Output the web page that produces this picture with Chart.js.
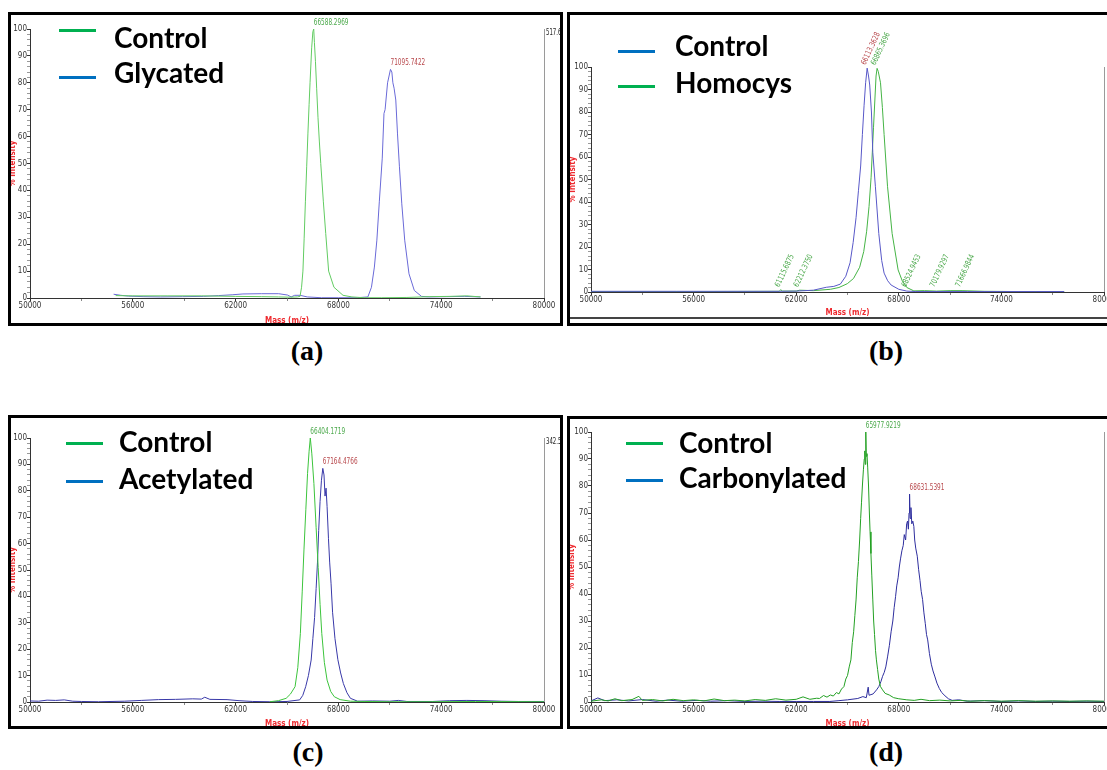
<!DOCTYPE html>
<html>
<head>
<meta charset="utf-8">
<script src="https://cdn.jsdelivr.net/npm/chart.js@4.4.1/dist/chart.umd.min.js"></script>
<style>
  body { margin: 0; width: 1107px; height: 770px; overflow: hidden; background: #fff; position: relative; }
  canvas { position: absolute; z-index: 1; }
  .box { position: absolute; border: 3px solid #000; box-sizing: border-box; z-index: 3; pointer-events: none; }
  .sw { position: absolute; height: 3px; width: 37px; z-index: 2; }
  .leg { position: absolute; z-index: 2; font-family: Lato, 'Open Sans', sans-serif; font-weight: 700;
         font-size: 28px; line-height: 28px; color: #000; white-space: nowrap; }
  .cap { position: absolute; width: 100px; text-align: center; font-family: 'Liberation Serif', serif;
         font-weight: bold; font-size: 28px; line-height: 28px; color: #000; }
  .rule { position: absolute; height: 2px; background: #444; z-index: 2; }
</style>
</head>
<body>

<canvas id="panelA" width="555" height="314" style="left:8px;top:12px"></canvas>
<canvas id="panelB" width="560" height="314" style="left:567px;top:12px"></canvas>
<canvas id="panelC" width="555" height="314" style="left:8px;top:415px"></canvas>
<canvas id="panelD" width="560" height="313" style="left:567px;top:416px"></canvas>

<div class="box" style="left:8px;top:12px;width:555px;height:314px"></div>
<div class="box" style="left:567px;top:12px;width:560px;height:314px"></div>
<div class="box" style="left:8px;top:415px;width:555px;height:314px"></div>
<div class="box" style="left:567px;top:416px;width:560px;height:313px"></div>
<div class="rule" style="left:567px;top:317px;width:540px"></div>

<!-- legends -->
<div class="sw" style="left:59px;top:29px;background:#00b050"></div>
<div class="leg" style="left:114px;top:23px">Control</div>
<div class="sw" style="left:59px;top:76px;background:#0070c0"></div>
<div class="leg" style="left:114px;top:58px">Glycated</div>

<div class="sw" style="left:618px;top:50px;background:#0070c0"></div>
<div class="leg" style="left:675px;top:31px">Control</div>
<div class="sw" style="left:618px;top:85px;background:#00b050"></div>
<div class="leg" style="left:675px;top:68px">Homocys</div>

<div class="sw" style="left:66px;top:442px;background:#00b050"></div>
<div class="leg" style="left:119px;top:427px">Control</div>
<div class="sw" style="left:66px;top:480px;background:#0070c0"></div>
<div class="leg" style="left:119px;top:464px">Acetylated</div>

<div class="sw" style="left:626px;top:442px;background:#00b050"></div>
<div class="leg" style="left:679px;top:428px">Control</div>
<div class="sw" style="left:626px;top:479px;background:#0070c0"></div>
<div class="leg" style="left:679px;top:463px">Carbonylated</div>

<div class="cap" style="left:257px;top:337px">(a)</div>
<div class="cap" style="left:836px;top:337px">(b)</div>
<div class="cap" style="left:258px;top:738px">(c)</div>
<div class="cap" style="left:836px;top:738px">(d)</div>

<script>
// axis tick labels
const massTicks = [50000, 56000, 62000, 68000, 74000, 80000];
const intensityTicks = [0, 10, 20, 30, 40, 50, 60, 70, 80, 90, 100];

// (a) control vs glycated
const massA_ctrl = [55000, 56000, 58000, 60000, 62000, 63500, 64500, 65200, 65600, 65760,
  65850, 65930, 66000, 66075, 66150, 66220, 66290, 66345, 66440, 66510,
  66560, 66600, 66660, 66730, 66810, 66890, 66970, 67120, 67260, 67430,
  67740, 68270, 68790, 69500, 70500, 72000, 73300, 74500, 75500, 76300];
const intA_ctrl = [0.9, 0.8, 0.8, 0.8, 0.6, 0.5, 0.4, 0.3, 0.4, 0.6,
  4, 10, 22, 36, 49, 61, 72, 80, 93, 99,
  100, 95, 88, 78, 67, 58, 50, 36, 24, 10,
  4, 1, 0.4, 0.1, 0.1, 0.2, 0.5, 0.6, 0.8, 0.4];
const massA_gly = [54880, 55300, 55750, 56600, 57630, 58900, 60130, 61000, 61800, 62430,
  63500, 64510, 65030, 65240, 65450, 65760, 66180, 67010, 68000, 69100,
  69720, 69930, 70100, 70245, 70390, 70560, 70660, 70725, 70870, 71040,
  71120, 71180, 71250, 71350, 71450, 71560, 71700, 71870, 72120, 72430,
  72850, 73270, 74300, 75350, 76290];
const intA_gly = [1.4, 1.0, 0.7, 0.5, 0.4, 0.5, 0.6, 0.9, 1.2, 1.5,
  1.6, 1.6, 1.1, 0.4, 1.0, 1.0, 0.4, 0.1, 0.1, 0.1,
  0.4, 4, 11.5, 21.5, 36, 52, 68.6, 70, 80, 85,
  84, 80, 78, 73.6, 61, 49, 35, 21.5, 9, 2.8,
  0.6, 0.4, 0.5, 0.6, 0.4];

// (b) control vs homocysteinylated
const massB_ctrl = [50000, 55000, 60000, 61000, 62000, 63000, 63760, 64200, 64580, 64900,
  65150, 65330, 65500, 65640, 65770, 65870, 65970, 66060, 66150, 66230,
  66300, 66400, 66480, 66630, 66830, 67000, 67140, 67350, 67550, 68000,
  68470, 69000, 70000, 72000, 74000, 76000, 77670];
const intB_ctrl = [0.3, 0.3, 0.3, 0.3, 0.4, 0.8, 2.1, 2.5, 3.5, 7,
  13, 22, 33, 45, 56, 70, 83, 93, 99.5, 96,
  92, 80, 62, 47, 26, 14, 8.4, 5, 3.1, 1.2,
  0.4, 0.2, 0.2, 0.2, 0.2, 0.2, 0.2];
const massB_hcy = [50000, 56000, 61000, 61100, 61200, 62000, 62200, 63000, 64000, 64500,
  64990, 65350, 65710, 65950, 66120, 66260, 66380, 66520, 66670, 66730,
  66800, 66930, 67040, 67140, 67340, 67610, 67960, 68200, 68470, 68880,
  69500, 70200, 71000, 71700, 73000, 75000, 77670];
const intB_hcy = [0.2, 0.2, 0.3, 1.0, 0.4, 0.4, 0.8, 0.6, 1.2, 2,
  3.7, 6, 11, 18, 27, 38, 51, 73, 96, 99.4,
  98, 93, 82, 70, 47, 26, 9.8, 5, 2, 0.5,
  0.6, 0.4, 0.6, 0.6, 0.3, 0.2, 0.2];

// (c) control vs acetylated
const massC_ctrl = [64000, 64500, 64950, 65200, 65470, 65630, 65780, 65890, 65990, 66100,
  66200, 66290, 66360, 66450, 66570, 66700, 66820, 66930, 67030, 67180,
  67340, 67550, 67760, 68100, 68700, 69500, 71000, 73000, 76000, 80000];
const intC_ctrl = [0.1, 0.5, 1.4, 3, 5.8, 13, 26, 42, 57.6, 73,
  86.6, 95, 100, 94, 82.8, 66, 51, 37, 26, 15,
  8.3, 4, 2, 0.9, 0.3, 0.2, 0.1, 0.1, 0.2, 0.1];
const massC_ace = [50000, 50500, 51000, 51500, 52000, 52500, 53000, 54000, 55500, 56500,
  57500, 58500, 59500, 60000, 60200, 60500, 61500, 62200, 63000, 64000,
  65000, 65740, 65920, 66090, 66250, 66410, 66510, 66610, 66700, 66780,
  66850, 66930, 67010, 67090, 67160, 67220, 67280, 67340, 67420, 67490,
  67570, 67660, 67800, 67970, 68130, 68290, 68500, 68700, 69120, 70000,
  71000, 71500, 72000, 73500, 74500, 75500, 76500, 77500, 78500, 80000];
const intC_ace = [0.4, 0.3, 0.7, 0.6, 0.8, 0.3, 0.2, 0.1, 0.3, 0.6,
  0.9, 1.0, 1.2, 1.1, 1.8, 1.0, 0.9, 0.5, 0.2, 0.1,
  0.2, 0.8, 2.5, 5.8, 10, 15.9, 24, 32, 43, 53,
  65, 76, 84, 88.5, 86, 78, 81, 74, 62, 53,
  45, 34, 24, 16, 11, 7, 3.5, 1.4, 0.3, 0.4,
  0.3, 0.6, 0.2, 0.2, 0.5, 0.6, 0.5, 0.3, 0.2, 0.2];

// (d) control vs carbonylated
const massD_ctrl = [50000, 50600, 51000, 51400, 51800, 52400, 52800, 53000, 53600, 54200,
  54800, 55400, 56000, 56600, 57200, 57800, 58400, 59000, 59600, 60200,
  60800, 61400, 62000, 62400, 62800, 63200, 63360, 63600, 63800, 64000,
  64170, 64350, 64500, 64650, 64790, 64900, 65000, 65100, 65200, 65280,
  65360, 65430, 65500, 65570, 65640, 65710, 65770, 65820, 65870, 65930,
  65980, 66010, 66040, 66070, 66100, 66140, 66180, 66230, 66280, 66320,
  66370, 66420, 66480, 66530, 66580, 66640, 66690, 66760, 66830, 66930,
  67050, 67200, 67440, 67700, 68000, 68470, 68900, 69300, 69800, 70400,
  71000, 71600, 72200, 73000, 74000, 75000, 76000, 77000, 78000, 79000, 80000];
const intD_ctrl = [0.3, 0.8, 0.4, 1.2, 0.5, 0.9, 2.1, 0.6, 0.9, 0.4,
  1.0, 0.5, 0.8, 0.4, 1.1, 0.5, 0.7, 0.4, 0.9, 0.6,
  1.2, 0.7, 1.0, 1.9, 1.0, 1.4, 1.3, 2.4, 1.8, 2.6,
  2.2, 3.5, 3.0, 4.8, 5.7, 8.5, 9.8, 13, 15.6, 22,
  26, 32, 37.8, 46, 52, 60, 68, 74, 80, 86,
  90, 93, 88, 100, 91, 92, 87, 80, 70, 63,
  55, 47, 37.8, 30, 25, 19, 15.6, 12, 8.5, 5.7,
  4.5, 3.2, 2.6, 1.6, 1.2, 0.8, 0.6, 1.0, 0.5, 0.7,
  0.4, 0.6, 0.3, 0.5, 0.3, 0.5, 0.3, 0.4, 0.3, 0.4, 0.3];
const massD_carb = [50000, 50400, 50800, 51500, 52200, 53000, 53800, 54500, 55300, 56200,
  57000, 58000, 59000, 60000, 61000, 62000, 63000, 63970, 64500, 65000,
  65600, 65900, 66100, 66210, 66260, 66500, 66700, 66830, 66950, 67050,
  67150, 67240, 67350, 67450, 67550, 67650, 67730, 67810, 67880, 67960,
  68030, 68100, 68180, 68260, 68320, 68400, 68460, 68510, 68560, 68600,
  68630, 68660, 68710, 68760, 68820, 68880, 68930, 68990, 69080, 69160,
  69240, 69310, 69390, 69470, 69550, 69620, 69690, 69790, 69900, 70000,
  70100, 70230, 70370, 70510, 70700, 70900, 71120, 71500, 72000, 73000,
  74000, 75000, 76000, 77000, 78000, 79000, 80000];
const intD_carb = [0.4, 1.5, 0.5, 0.8, 0.4, 0.9, 0.3, 0.7, 0.3, 0.6,
  0.3, 0.5, 0.2, 0.3, 0.2, 0.2, 0.2, 0.2, 0.5, 0.8,
  1.3, 2.0, 1.6, 5.5, 2.5, 3.0, 4.5, 5.7, 7.5, 9.5,
  11, 13, 17, 21, 26, 30, 35, 39, 43, 46,
  50, 53, 56, 58, 62, 60, 66, 67, 64, 70,
  77, 68, 72, 66, 67, 65, 60, 57, 54, 49,
  45, 41, 38, 33, 29, 25, 23, 18, 14, 11.5,
  9.6, 7, 5, 3.5, 2.3, 1.2, 0.6, 0.8, 0.3, 0.5,
  0.2, 0.4, 0.2, 0.3, 0.2, 0.3, 0.2];

// peak annotations: [mass, intensity, text]
const peaksA = [[66560, 100, '66588.2969'], [71040, 85, '71095.7422']];
const peaksB = [[66150, 99.5, '66113.3628'], [66730, 99.4, '66865.3696'],
  [61115, 0.8, '61115.6875'], [62212, 0.8, '62212.3750'], [68525, 0.8, '68524.9453'],
  [70180, 0.8, '70179.9297'], [71667, 0.8, '71666.9844']];
const peaksC = [[66360, 100, '66404.1719'], [67090, 88.5, '67164.4766']];
const peaksD = [[66070, 100, '65977.9219'], [68630, 77, '68631.5391']];

const NOTE_GREEN = '#4aa84a';
const NOTE_RED = '#b8484c';
const RED = '#ee2a2f';
const narrow = "'Liberation Sans Narrow', 'DejaVu Sans Condensed', 'Arial Narrow', sans-serif";

function noteLayer(id, notes, rightLabel) {
  return {
    id: 'notes_' + id,
    afterDatasetsDraw(chart) {
      const { ctx, chartArea, scales } = chart;
      ctx.save();
      ctx.strokeStyle = '#9a9a9a';
      ctx.lineWidth = 1;
      ctx.beginPath();
      ctx.moveTo(Math.round(chartArea.right) + 0.5, chartArea.top);
      ctx.lineTo(Math.round(chartArea.right) + 0.5, chartArea.bottom);
      ctx.stroke();
      ctx.font = '8px ' + narrow;
      ctx.textAlign = 'left';
      if (rightLabel) {
        ctx.save();
        ctx.translate(chartArea.right + 2, chartArea.top + 4);
        ctx.scale(0.75, 1);
        ctx.fillStyle = '#222';
        ctx.textBaseline = 'middle';
        ctx.fillText(rightLabel, 0, 0);
        ctx.restore();
      }
      ctx.textBaseline = 'bottom';
      for (const n of notes) {
        const px = scales.x.getPixelForValue(n.mass);
        const py = scales.y.getPixelForValue(n.intensity);
        ctx.save();
        ctx.translate(px, py - 2);
        ctx.rotate(n.angle * Math.PI / 180);
        ctx.scale(0.8, 1);
        ctx.fillStyle = n.color;
        ctx.fillText(n.text, 0, 0);
        ctx.restore();
      }
      ctx.restore();
    }
  };
}

function spectrum(id, series, notes, frame) {
  const datasets = series.map(s => ({
    label: s.name,
    data: s.mass.map((m, i) => ({ x: m, y: s.intensity[i] })),
    borderColor: s.color,
    borderWidth: 1,
    pointRadius: 0,
    tension: 0,
    fill: false
  }));
  const tickFont = { family: narrow, size: 8 };
  const titleFont = { family: narrow, size: 8, weight: 'bold' };
  return new Chart(document.getElementById(id), {
    type: 'line',
    data: { datasets },
    options: {
      responsive: false,
      animation: false,
      events: [],
      layout: { padding: { left: 0, top: frame.top, right: frame.right, bottom: 0 } },
      plugins: { legend: { display: false }, tooltip: { enabled: false } },
      scales: {
        x: {
          type: 'linear', min: 50000, max: 80000,
          afterFit: s => { s.height = frame.xh; },
          border: { color: '#333', width: 1 },
          grid: { drawOnChartArea: false, tickLength: 3,
                  tickColor: c => massTicks.includes(c.tick && c.tick.value) ? '#333' : '#888' },
          ticks: { stepSize: 3000, autoSkip: false, maxRotation: 0, padding: 0, color: '#333', font: tickFont,
                   callback: v => massTicks.includes(v) ? String(v) : '' },
          title: { display: true, text: 'Mass (m/z)', color: RED, font: titleFont,
                   padding: { top: 0, bottom: frame.titlePad } }
        },
        y: {
          min: 0, max: 100,
          afterFit: s => { s.width = frame.yw; },
          border: { color: '#333', width: 1 },
          grid: { drawOnChartArea: false, tickLength: 3,
                  tickColor: c => intensityTicks.includes(c.tick && c.tick.value) ? '#333' : '#999' },
          ticks: { stepSize: 2, autoSkip: false, padding: 0, color: '#333', font: tickFont,
                   callback: v => intensityTicks.includes(v) ? String(v) : '' },
          title: { display: true, text: '% Intensity', color: RED, font: titleFont,
                   padding: { top: frame.yTitlePad, bottom: 0 } }
        }
      }
    },
    plugins: [noteLayer(id, notes, frame.rightLabel)]
  });
}

function notesFrom(list, colors, angle) {
  return list.map((p, i) => ({ mass: p[0], intensity: p[1], text: p[2], color: colors[i] || NOTE_GREEN, angle }));
}

spectrum('panelA', [
  { name: 'Control', mass: massA_ctrl, intensity: intA_ctrl, color: '#62cc62' },
  { name: 'Glycated', mass: massA_gly, intensity: intA_gly, color: '#6a6ad8' }
], notesFrom(peaksA, [NOTE_GREEN, NOTE_RED], 0),
  { top: 17, right: 19, yw: 22, xh: 28, titlePad: 0, yTitlePad: 0, rightLabel: '517.6' });

spectrum('panelB', [
  { name: 'Control', mass: massB_ctrl, intensity: intB_ctrl, color: '#5858c8' },
  { name: 'Homocys', mass: massB_hcy, intensity: intB_hcy, color: '#45b445' }
], notesFrom(peaksB, [NOTE_RED, NOTE_GREEN], -65),
  { top: 55, right: 23, yw: 24, xh: 34, titlePad: 8, yTitlePad: 1, rightLabel: '' });

spectrum('panelC', [
  { name: 'Control', mass: massC_ctrl, intensity: intC_ctrl, color: '#3cc43c' },
  { name: 'Acetylated', mass: massC_ace, intensity: intC_ace, color: '#3838a8' }
], notesFrom(peaksC, [NOTE_GREEN, NOTE_RED], 0),
  { top: 23, right: 19, yw: 22, xh: 27, titlePad: 0, yTitlePad: 0, rightLabel: '342.5' });

spectrum('panelD', [
  { name: 'Control', mass: massD_ctrl, intensity: intD_ctrl, color: '#23a023' },
  { name: 'Carbonylated', mass: massD_carb, intensity: intD_carb, color: '#2e2e9e' }
], notesFrom(peaksD, [NOTE_GREEN, NOTE_RED], 0),
  { top: 16, right: 23, yw: 24, xh: 27, titlePad: 0, yTitlePad: 0, rightLabel: '' });
</script>
</body>
</html>
